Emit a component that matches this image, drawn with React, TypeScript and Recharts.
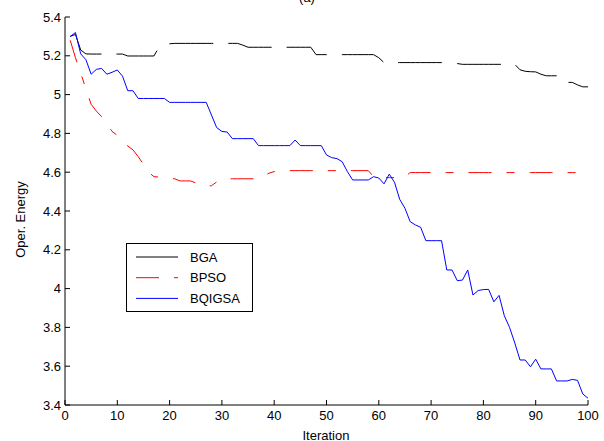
import { LineChart, Line, XAxis, YAxis, Legend, Customized } from "recharts";

const FONT = '"Liberation Sans", Arial, Helvetica, sans-serif';

// x categories (iteration index) and axis ticks
const iterations = Array.from({ length: 100 }, (_, i) => i + 1);
const xTicks = [0, 10, 20, 30, 40, 50, 60, 70, 80, 90, 100];
const yTicks = [3.4, 3.6, 3.8, 4, 4.2, 4.4, 4.6, 4.8, 5, 5.2, 5.4];

// values, one per iteration
const bga = [
  5.3, 5.31, 5.23, 5.21, 5.209, 5.209, 5.209, 5.209, 5.209, 5.209,
  5.209, 5.199, 5.199, 5.199, 5.199, 5.199, 5.199, 5.245, 5.258, 5.262,
  5.264, 5.264, 5.264, 5.264, 5.264, 5.264, 5.264, 5.264, 5.264, 5.264,
  5.264, 5.264, 5.264, 5.255, 5.244, 5.244, 5.244, 5.244, 5.244, 5.244,
  5.244, 5.244, 5.244, 5.244, 5.244, 5.244, 5.244, 5.206, 5.206, 5.206,
  5.206, 5.206, 5.206, 5.206, 5.206, 5.206, 5.206, 5.206, 5.206, 5.19,
  5.165, 5.165, 5.165, 5.165, 5.165, 5.165, 5.165, 5.165, 5.165, 5.165,
  5.165, 5.165, 5.165, 5.165, 5.16, 5.156, 5.156, 5.156, 5.156, 5.156,
  5.156, 5.156, 5.156, 5.156, 5.156, 5.156, 5.128, 5.12, 5.118, 5.117,
  5.105, 5.097, 5.097, 5.097, 5.097, 5.063, 5.063, 5.05, 5.04, 5.04,
];

const bpso = [
  5.28, 5.19, 5.11, 5.03, 4.95, 4.915, 4.886, 4.85, 4.81, 4.79,
  4.76, 4.735, 4.715, 4.68, 4.64, 4.6, 4.577, 4.575, 4.57, 4.566,
  4.566, 4.555, 4.555, 4.555, 4.545, 4.535, 4.53, 4.53, 4.55, 4.566,
  4.566, 4.566, 4.566, 4.566, 4.566, 4.566, 4.566, 4.58, 4.595, 4.603,
  4.608, 4.608, 4.608, 4.608, 4.608, 4.608, 4.608, 4.608, 4.608, 4.608,
  4.608, 4.608, 4.608, 4.608, 4.608, 4.608, 4.608, 4.608, 4.577, 4.572,
  4.572, 4.572, 4.572, 4.572, 4.577, 4.598, 4.598, 4.598, 4.598, 4.598,
  4.598, 4.598, 4.598, 4.598, 4.598, 4.598, 4.598, 4.598, 4.598, 4.598,
  4.598, 4.598, 4.598, 4.598, 4.598, 4.598, 4.598, 4.598, 4.598, 4.598,
  4.598, 4.598, 4.598, 4.598, 4.598, 4.598, 4.598, 4.598, 4.598, 4.598,
];

const bqigsa = [
  5.3, 5.32, 5.21, 5.18, 5.105, 5.13, 5.135, 5.105, 5.115, 5.127,
  5.095, 5.02, 5.02, 4.98, 4.98, 4.98, 4.98, 4.98, 4.98, 4.96,
  4.96, 4.96, 4.96, 4.96, 4.96, 4.96, 4.96, 4.895, 4.83, 4.81,
  4.807, 4.773, 4.773, 4.773, 4.773, 4.773, 4.737, 4.737, 4.737, 4.737,
  4.737, 4.737, 4.737, 4.766, 4.737, 4.737, 4.737, 4.737, 4.737, 4.689,
  4.675, 4.67, 4.654, 4.603, 4.56, 4.56, 4.56, 4.56, 4.577, 4.57,
  4.54, 4.59, 4.548, 4.46, 4.414, 4.345, 4.328, 4.316, 4.247, 4.247,
  4.247, 4.247, 4.096, 4.096, 4.041, 4.044, 4.096, 3.967, 3.99, 3.995,
  3.996, 3.932, 3.965, 3.86, 3.8, 3.72, 3.632, 3.632, 3.597, 3.636,
  3.586, 3.586, 3.586, 3.524, 3.524, 3.524, 3.532, 3.527, 3.457, 3.435,
];

const chartData = iterations.map((it, i) => ({
  iteration: it,
  BGA: bga[i],
  BPSO: bpso[i],
  BQIGSA: bqigsa[i],
}));

const series = [
  { key: "BGA", color: "#000000", dash: "44 15" },
  { key: "BPSO", color: "#ff0000", dash: "23 15 8 15" },
  { key: "BQIGSA", color: "#0000ff", dash: undefined },
];

const tickStyle = { fontSize: 13, fill: "#000", fontFamily: FONT };
const fmtY = (v: number) => String(Math.round(v * 10) / 10);
const blank = () => "";

function LegendBox({ payload }: any) {
  const items = payload ?? [];
  return (
    <svg width={127} height={69} style={{ display: "block" }}>
      <rect x={0.5} y={0.5} width={126} height={68} fill="#fff" stroke="#000" />
      {items.map((entry: any, i: number) => {
        const cy = 14 + i * 20.7;
        const s = series.find((d) => d.key === entry.value);
        return (
          <g key={entry.value}>
            <line
              x1={10}
              x2={52}
              y1={cy}
              y2={cy}
              stroke={s?.color ?? entry.color}
              strokeDasharray={s?.dash}
            />
            <text x={64} y={cy} dy="0.36em" fontSize={13} fontFamily={FONT} fill="#000">
              {entry.value}
            </text>
          </g>
        );
      })}
    </svg>
  );
}

function Labels() {
  return (
    <g fontFamily={FONT} fill="#000">
      <text x={307} y={1.5} fontSize={13} textAnchor="middle">
        (a)
      </text>
      <text x={326} y={440} fontSize={13} textAnchor="middle">
        Iteration
      </text>
      <text
        x={24.5}
        y={219.5}
        fontSize={13}
        textAnchor="middle"
        transform="rotate(-90 24.5 219.5)"
      >
        Oper. Energy
      </text>
    </g>
  );
}

export default function App() {
  return (
    <div style={{ position: "absolute", left: 0, top: 0, width: 604, height: 441, background: "#fff" }}>
      <LineChart
        width={604}
        height={441}
        data={chartData}
        margin={{ top: 17, right: 16, bottom: 0, left: 0 }}
      >
        <XAxis
          xAxisId="bottom"
          dataKey="iteration"
          type="number"
          domain={[0, 100]}
          ticks={xTicks}
          interval={0}
          height={36}
          tickSize={-5}
          tickMargin={11}
          tick={tickStyle}
          stroke="#000"
          axisLine={{ stroke: "#000" }}
          tickLine={{ stroke: "#000" }}
        />
        <XAxis
          xAxisId="top"
          orientation="top"
          type="number"
          domain={[0, 100]}
          ticks={xTicks}
          interval={0}
          height={0}
          tickSize={-5}
          tickFormatter={blank}
          stroke="#000"
        />
        <YAxis
          yAxisId="left"
          type="number"
          domain={[3.4, 5.4]}
          ticks={yTicks}
          interval={0}
          width={65}
          tickSize={-5}
          tickMargin={9}
          tickFormatter={fmtY}
          tick={tickStyle}
          stroke="#000"
          allowDataOverflow
        />
        <YAxis
          yAxisId="right"
          orientation="right"
          type="number"
          domain={[3.4, 5.4]}
          ticks={yTicks}
          interval={0}
          width={0}
          tickSize={-5}
          tickFormatter={blank}
          stroke="#000"
          allowDataOverflow
        />
        {series.map((s) => (
          <Line
            key={s.key}
            xAxisId="bottom"
            yAxisId="left"
            type="linear"
            dataKey={s.key}
            name={s.key}
            stroke={s.color}
            strokeWidth={1}
            strokeDasharray={s.dash}
            dot={false}
            activeDot={false}
            isAnimationActive={false}
          />
        ))}
        <Legend
          layout="vertical"
          align="center"
          verticalAlign="middle"
          content={<LegendBox />}
          wrapperStyle={{ left: 126, top: 243, width: 127, height: 69 }}
        />
        <Customized component={Labels} />
      </LineChart>
    </div>
  );
}
